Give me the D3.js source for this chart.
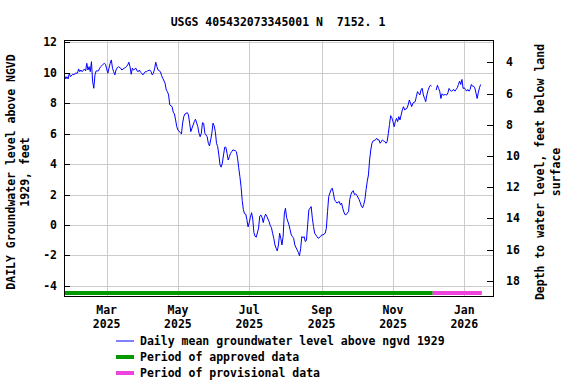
<!DOCTYPE html>
<html><head><meta charset="utf-8">
<script src="https://cdn.jsdelivr.net/npm/d3@7"></script>
<style>
html,body{margin:0;padding:0;background:#fff;}
svg text{font-family:"DejaVu Sans Mono",monospace;font-weight:bold;font-size:11.5px;fill:#000;}
</style></head>
<body>
<svg id="c" width="576" height="384"></svg>
<script>
const title = "USGS 405432073345001 N  7152. 1";
const leftTitle = ["DAILY Groundwater level above NGVD", "1929, feet"];
const rightTitle = ["Depth to water level, feet below land", "surface"];
const xTickDates = ["2025-03-01","2025-05-01","2025-07-01","2025-09-01","2025-11-01","2026-01-01"];
const xTickMonths = ["Mar","May","Jul","Sep","Nov","Jan"];
const xTickYears = ["2025","2025","2025","2025","2025","2026"];
const leftTicks = [-4,-2,0,2,4,6,8,10,12];
const rightTicks = [4,6,8,10,12,14,16,18];
const legendLabels = ["Daily mean groundwater level above ngvd 1929","Period of approved data","Period of provisional data"];
const approvedPeriod = ["2025-01-23","2025-12-05"];
const provisionalPeriod = ["2025-12-05","2026-01-16"];

const dates = [
"2025-01-24","2025-01-25","2025-01-26","2025-01-27","2025-01-28","2025-01-29","2025-01-31","2025-02-01","2025-02-02","2025-02-04",
"2025-02-05","2025-02-06","2025-02-07","2025-02-08","2025-02-10","2025-02-11","2025-02-12","2025-02-13","2025-02-14","2025-02-15",
"2025-02-16","2025-02-17","2025-02-18","2025-02-19","2025-02-20","2025-02-21","2025-02-22","2025-02-23","2025-02-24","2025-02-26",
"2025-02-27","2025-02-28","2025-03-01","2025-03-02","2025-03-03","2025-03-04","2025-03-05","2025-03-06","2025-03-07","2025-03-08",
"2025-03-09","2025-03-10","2025-03-11","2025-03-13","2025-03-14","2025-03-16","2025-03-17","2025-03-19","2025-03-20","2025-03-21",
"2025-03-22","2025-03-23","2025-03-24","2025-03-26","2025-03-27","2025-03-28","2025-03-29","2025-03-30","2025-03-31","2025-04-01",
"2025-04-03","2025-04-04","2025-04-05","2025-04-07","2025-04-08","2025-04-09","2025-04-10","2025-04-11","2025-04-12","2025-04-13",
"2025-04-14","2025-04-16","2025-04-17","2025-04-18","2025-04-20","2025-04-21","2025-04-22","2025-04-23","2025-04-24","2025-04-26",
"2025-04-27","2025-04-28","2025-04-29","2025-04-30","2025-05-01","2025-05-03","2025-05-04","2025-05-05","2025-05-06","2025-05-07",
"2025-05-09","2025-05-10","2025-05-11","2025-05-12","2025-05-13","2025-05-14","2025-05-15","2025-05-16","2025-05-18","2025-05-19",
"2025-05-20","2025-05-21","2025-05-22","2025-05-23","2025-05-24","2025-05-26","2025-05-27","2025-05-28","2025-05-29","2025-05-30",
"2025-05-31","2025-06-01","2025-06-02","2025-06-03","2025-06-04","2025-06-05","2025-06-06","2025-06-07","2025-06-08","2025-06-09",
"2025-06-10","2025-06-11","2025-06-12","2025-06-13","2025-06-14","2025-06-15","2025-06-16","2025-06-17","2025-06-19","2025-06-20",
"2025-06-21","2025-06-22","2025-06-23","2025-06-24","2025-06-25","2025-06-26","2025-06-27","2025-06-28","2025-06-29","2025-06-30",
"2025-07-01","2025-07-02","2025-07-03","2025-07-04","2025-07-05","2025-07-06","2025-07-07","2025-07-09","2025-07-10","2025-07-11",
"2025-07-12","2025-07-13","2025-07-14","2025-07-15","2025-07-16","2025-07-18","2025-07-19","2025-07-20","2025-07-21","2025-07-22",
"2025-07-23","2025-07-24","2025-07-25","2025-07-26","2025-07-27","2025-07-28","2025-07-29","2025-07-30","2025-07-31","2025-08-01",
"2025-08-02","2025-08-04","2025-08-05","2025-08-06","2025-08-07","2025-08-08","2025-08-09","2025-08-11","2025-08-12","2025-08-13",
"2025-08-14","2025-08-15","2025-08-16","2025-08-17","2025-08-18","2025-08-19","2025-08-20","2025-08-21","2025-08-23","2025-08-24",
"2025-08-25","2025-08-26","2025-08-27","2025-08-28","2025-08-29","2025-08-31","2025-09-01","2025-09-02","2025-09-04","2025-09-05",
"2025-09-06","2025-09-07","2025-09-09","2025-09-10","2025-09-11","2025-09-12","2025-09-13","2025-09-14","2025-09-16","2025-09-17",
"2025-09-18","2025-09-19","2025-09-20","2025-09-21","2025-09-22","2025-09-24","2025-09-25","2025-09-26","2025-09-27","2025-09-28",
"2025-09-29","2025-09-30","2025-10-01","2025-10-03","2025-10-04","2025-10-05","2025-10-06","2025-10-07","2025-10-08","2025-10-09",
"2025-10-10","2025-10-11","2025-10-12","2025-10-13","2025-10-14","2025-10-15","2025-10-17","2025-10-18","2025-10-19","2025-10-20",
"2025-10-21","2025-10-23","2025-10-24","2025-10-25","2025-10-26","2025-10-27","2025-10-28","2025-10-29","2025-10-30","2025-10-31",
"2025-11-01","2025-11-02","2025-11-03","2025-11-04","2025-11-05","2025-11-06","2025-11-07","2025-11-08","2025-11-09","2025-11-10",
"2025-11-11","2025-11-13","2025-11-14","2025-11-15","2025-11-16","2025-11-17","2025-11-18","2025-11-20","2025-11-21","2025-11-22",
"2025-11-23","2025-11-24","2025-11-25","2025-11-26","2025-11-27","2025-11-28","2025-11-29","2025-11-30","2025-12-01","2025-12-02",
"2025-12-03","2025-12-04","2025-12-06","2025-12-08","2025-12-09","2025-12-10","2025-12-11","2025-12-12","2025-12-13","2025-12-14",
"2025-12-16","2025-12-17","2025-12-18","2025-12-19","2025-12-20","2025-12-21","2025-12-23","2025-12-24","2025-12-25","2025-12-26",
"2025-12-27","2025-12-28","2025-12-29","2025-12-30","2025-12-31","2026-01-01","2026-01-02","2026-01-03","2026-01-04","2026-01-05",
"2026-01-06","2026-01-07","2026-01-08","2026-01-09","2026-01-10","2026-01-11","2026-01-12","2026-01-13","2026-01-14","2026-01-15"
];
const levels = [
9.81,9.59,9.74,9.59,9.97,9.74,9.90,9.86,9.97,9.97,
10.25,10.07,10.18,10.07,10.25,10.12,10.62,10.18,10.40,10.07,
10.73,9.42,8.98,9.86,10.12,10.12,10.12,10.30,10.40,10.56,
10.62,10.56,10.25,9.97,10.30,10.62,10.84,10.30,10.07,9.86,
10.18,10.33,10.40,10.30,10.18,10.30,10.33,10.51,10.69,10.40,
9.90,10.30,10.18,10.30,10.12,10.07,10.18,10.03,9.97,9.86,
10.07,10.07,10.12,10.18,10.07,9.86,9.97,10.25,10.69,10.40,
10.18,10.07,9.81,9.64,9.31,8.87,8.76,8.54,7.89,7.77,
7.41,7.29,6.90,6.46,6.24,6.07,5.98,6.69,7.12,7.29,
7.38,7.23,6.69,6.13,6.36,6.57,6.79,6.95,6.46,6.03,
5.80,6.03,6.72,6.68,6.03,5.80,5.37,5.19,5.59,6.03,
6.69,6.51,6.13,5.37,5.15,4.60,3.95,3.80,4.07,4.60,
5.11,5.11,4.71,4.27,4.49,4.71,4.82,4.93,4.89,4.82,
4.39,3.76,3.18,2.52,1.60,1.00,0.75,0.72,0.35,-0.12,
0.16,0.50,0.81,0.40,-0.50,-0.73,-0.80,-0.20,0.59,0.66,
0.49,0.16,0.52,0.71,0.58,0.22,-0.04,-0.17,-0.54,-0.87,
-1.31,-1.52,-1.70,-1.31,-0.54,-0.87,-1.31,-0.73,0.72,1.10,
0.48,0.01,-0.32,-0.65,-0.76,-0.87,-1.31,-1.64,-1.79,-2.02,
-1.53,-0.76,-0.83,-0.76,-1.09,-0.98,0.01,0.99,1.21,0.45,
-0.10,-0.54,-0.65,-0.76,-0.87,-0.76,-0.65,-0.65,-0.54,-0.21,
0.88,1.87,2.31,2.42,2.10,1.66,1.55,1.44,1.55,1.33,
1.44,1.11,0.85,0.68,0.68,0.90,1.68,2.00,2.18,2.26,
2.00,2.05,1.96,1.68,1.46,1.24,1.13,1.35,1.68,2.33,
2.88,3.29,4.27,4.93,5.37,5.52,5.59,5.70,5.59,5.59,
5.37,5.59,5.52,5.48,5.37,5.48,6.00,6.60,7.18,7.05,
6.79,6.46,6.79,7.01,6.79,7.12,6.90,7.23,7.56,7.77,
7.56,7.67,7.89,8.21,8.00,7.77,8.00,8.10,8.43,8.76,
8.65,8.54,8.87,8.98,8.54,8.32,8.10,8.54,8.84,9.05,
9.18,9.12,null,8.86,9.18,8.97,8.79,8.31,8.62,8.53,
8.57,8.53,8.68,8.97,8.84,8.79,8.90,8.79,8.90,9.01,
9.23,9.45,9.23,9.56,8.97,9.01,8.90,8.79,8.90,8.79,
8.90,9.23,9.12,9.12,9.01,8.68,8.31,8.68,9.01,9.23
];

const parse = d3.utcParse("%Y-%m-%d");
const data = dates.map((d,i)=>({date:parse(d), v:levels[i]}));

const L=64, R=493, T=40, B=296;
const svg = d3.select("#c");
const x = d3.scaleUtc().domain([Date.UTC(2025,0,23,12), Date.UTC(2026,0,25,14)]).range([L,R]);
const yL = d3.scaleLinear().domain([-4.66,12.15]).range([B,T]);
const yR = d3.scaleLinear().domain([2.57,18.98]).range([T,B]);
const grid = "#cccccc";

// gridlines
svg.append("g").selectAll("line").data(leftTicks).join("line")
  .attr("x1",L).attr("x2",R).attr("y1",d=>Math.round(yL(d))+0.5).attr("y2",d=>Math.round(yL(d))+0.5)
  .attr("stroke",grid).attr("stroke-width",1);
svg.append("g").selectAll("line").data(xTickDates).join("line")
  .attr("x1",d=>Math.round(x(parse(d)))+0.5).attr("x2",d=>Math.round(x(parse(d)))+0.5).attr("y1",T).attr("y2",B)
  .attr("stroke",grid).attr("stroke-width",1);

// period bars
const periods = [[approvedPeriod,"#009a00"],[provisionalPeriod,"#ee44dd"]];
svg.append("g").selectAll("rect").data(periods).join("rect")
  .attr("x",d=>Math.max(L,x(parse(d[0][0])))).attr("width",d=>x(parse(d[0][1]))-Math.max(L,x(parse(d[0][0]))))
  .attr("y",291).attr("height",4).attr("fill",d=>d[1]);

// line
const line = d3.line().defined(d=>d.v!==null).x(d=>x(d.date)).y(d=>yL(d.v));
svg.append("path").datum(data).attr("d",line).attr("fill","none").attr("stroke","#0000ff").attr("stroke-width",1);

// frame
svg.append("rect").attr("x",L+0.5).attr("y",T+0.5).attr("width",R-L).attr("height",B-T)
  .attr("fill","none").attr("stroke","#000").attr("stroke-width",1);

// left axis ticks + labels
const gl = svg.append("g");
gl.selectAll("line").data(leftTicks).join("line")
  .attr("x1",L).attr("x2",L+6).attr("y1",d=>Math.round(yL(d))+0.5).attr("y2",d=>Math.round(yL(d))+0.5).attr("stroke","#000");
gl.selectAll("text").data(leftTicks).join("text")
  .attr("x",57).attr("y",d=>yL(d)+4).attr("text-anchor","end").text(d=>d);

// right axis
const gr = svg.append("g");
gr.selectAll("line").data(rightTicks).join("line")
  .attr("x1",R-6).attr("x2",R).attr("y1",d=>Math.round(yR(d))+0.5).attr("y2",d=>Math.round(yR(d))+0.5).attr("stroke","#000");
gr.selectAll("text").data(rightTicks).join("text")
  .attr("x",506).attr("y",d=>yR(d)+4).attr("text-anchor","start").text(d=>d);

// x axis labels
const gx = svg.append("g");
gx.selectAll("text.m").data(xTickDates).join("text").attr("class","m")
  .attr("x",d=>x(parse(d))).attr("y",314).attr("text-anchor","middle").text((d,i)=>xTickMonths[i]);
gx.selectAll("text.yr").data(xTickDates).join("text").attr("class","yr")
  .attr("x",d=>x(parse(d))).attr("y",328).attr("text-anchor","middle").text((d,i)=>xTickYears[i]);

// title
svg.append("text").attr("x",278).attr("y",26).attr("text-anchor","middle").attr("xml:space","preserve")
  .style("white-space","pre").text(title);

// axis titles
leftTitle.forEach((t,i)=>{
  svg.append("text").attr("transform",`translate(${15+i*14},172) rotate(-90)`).attr("text-anchor","middle").text(t);
});
rightTitle.forEach((t,i)=>{
  svg.append("text").attr("transform",`translate(${544+i*16},172) rotate(-90)`).attr("text-anchor","middle").text(t);
});

// legend
const lg = svg.append("g");
const legendStyles = [["#0000ff",1],["#009a00",4],["#ee44dd",4]];
legendLabels.forEach((t,i)=>{
  const yy = 341 + i*16;
  lg.append("line").attr("x1",116).attr("x2",134).attr("y1",yy).attr("y2",yy)
    .attr("stroke",legendStyles[i][0]).attr("stroke-width",legendStyles[i][1]);
  lg.append("text").attr("x",140).attr("y",yy+4).text(t);
});
</script>
</body></html>
